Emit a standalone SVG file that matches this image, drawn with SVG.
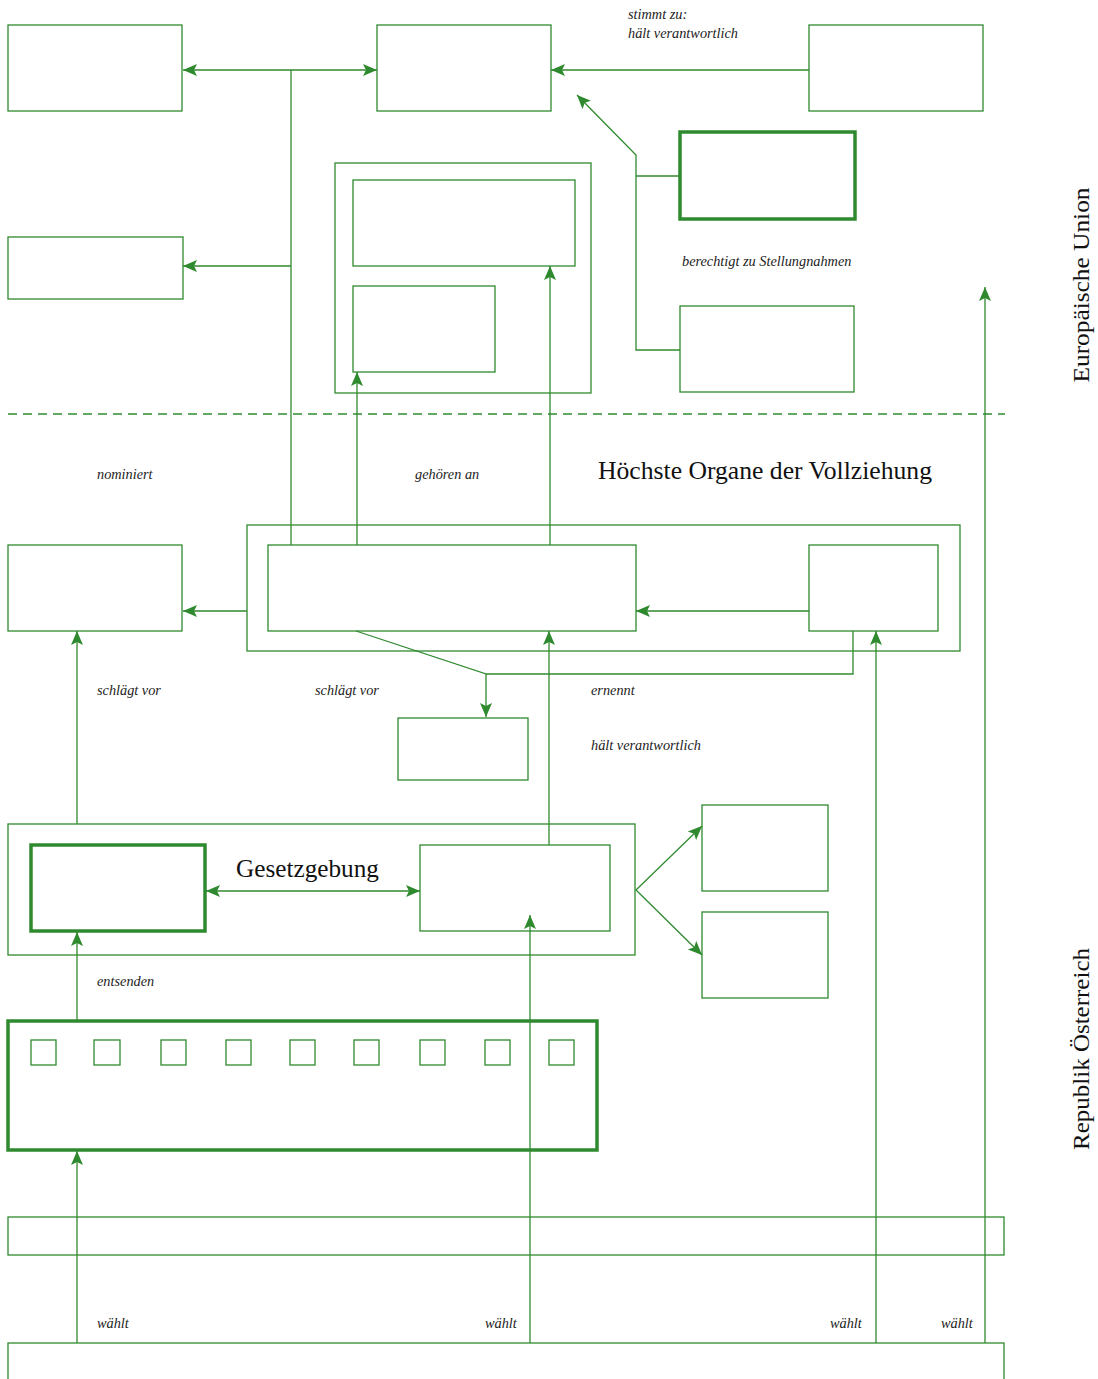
<svg xmlns="http://www.w3.org/2000/svg" width="1098" height="1379" viewBox="0 0 1098 1379">
<style>
.b{fill:#fff;stroke:#2f8a2f;stroke-width:1.3}
.t{fill:#fff;stroke:#2f8a2f;stroke-width:3.5}
.c{fill:none;stroke:#2f8a2f;stroke-width:1.3}
.l{font-family:"Liberation Serif",serif;font-style:italic;font-size:14.3px;fill:#222}
.h{font-family:"Liberation Serif",serif;font-size:24.5px;fill:#111}
.v{font-family:"Liberation Serif",serif;font-size:23px;fill:#111}
</style>
<defs>
<marker id="a" markerUnits="userSpaceOnUse" markerWidth="16" markerHeight="14" refX="14" refY="7" orient="auto">
<path d="M0,1 L14,7 L0,13 L3,7 z" fill="#2f8a2f"/>
</marker>
<marker id="s" markerUnits="userSpaceOnUse" markerWidth="16" markerHeight="14" refX="0" refY="7" orient="auto">
<path d="M14,1 L0,7 L14,13 L11,7 z" fill="#2f8a2f"/>
</marker>
</defs>
<rect width="1098" height="1379" fill="#fff"/>
<g id="nodes">
<g id="n-a"><rect class="b" x="8" y="25" width="174" height="86"/></g>
<g id="n-b"><rect class="b" x="377" y="25" width="174" height="86"/></g>
<g id="n-c"><rect class="b" x="809" y="25" width="174" height="86"/></g>
<g id="n-d"><rect class="t" x="680" y="132" width="175" height="87"/></g>
<g id="n-e"><rect class="b" x="680" y="306" width="174" height="86"/></g>
<g id="n-f"><rect class="b" x="8" y="237" width="175" height="62"/></g>
<g id="n-g"><rect class="b" x="335" y="163" width="256" height="230"/>
<rect class="b" x="353" y="180" width="222" height="86"/>
<rect class="b" x="353" y="286" width="142" height="86"/></g>
<g id="n-h"><rect class="b" x="8" y="545" width="174" height="86"/></g>
<g id="n-i"><rect class="b" x="247" y="525" width="713" height="126"/>
<rect class="b" x="268" y="545" width="368" height="86"/>
<rect class="b" x="809" y="545" width="129" height="86"/></g>
<g id="n-j"><rect class="b" x="398" y="718" width="130" height="62"/></g>
<g id="n-k"><rect class="b" x="8" y="824" width="627" height="131"/>
<rect class="t" x="31" y="845" width="174" height="86"/>
<rect class="b" x="420" y="845" width="190" height="86"/></g>
<g id="n-l1"><rect class="b" x="702" y="805" width="126" height="86"/></g>
<g id="n-l2"><rect class="b" x="702" y="912" width="126" height="86"/></g>
<g id="n-m"><rect class="t" x="8" y="1021" width="589" height="129"/>
<rect class="b" x="31" y="1040" width="25" height="25"/>
<rect class="b" x="94" y="1040" width="26" height="25"/>
<rect class="b" x="161" y="1040" width="25" height="25"/>
<rect class="b" x="226" y="1040" width="25" height="25"/>
<rect class="b" x="290" y="1040" width="25" height="25"/>
<rect class="b" x="354" y="1040" width="25" height="25"/>
<rect class="b" x="420" y="1040" width="25" height="25"/>
<rect class="b" x="485" y="1040" width="25" height="25"/>
<rect class="b" x="549" y="1040" width="25" height="25"/></g>
<g id="n-n"><rect class="b" x="8" y="1217" width="996" height="38" style="fill:none"/></g>
<g id="n-o"><rect class="b" x="8" y="1343" width="996" height="50"/></g>
</g>
<g id="connectors">
<line x1="8" y1="414" x2="1005" y2="414" stroke="#2f8a2f" stroke-width="1.3" stroke-dasharray="9,6"/>
<line class="c" x1="291" y1="70" x2="291" y2="545"/>
<line class="c" x1="183" y1="70" x2="377" y2="70" marker-start="url(#s)" marker-end="url(#a)"/>
<line class="c" x1="291" y1="266" x2="183" y2="266" marker-end="url(#a)"/>
<line class="c" x1="809" y1="70" x2="551" y2="70" marker-end="url(#a)"/>
<polyline class="c" points="680,176 636,176"/>
<polyline class="c" points="680,350 636,350 636,155 577,95" marker-end="url(#a)"/>
<line class="c" x1="357" y1="545" x2="357" y2="372" marker-end="url(#a)"/>
<line class="c" x1="550" y1="545" x2="550" y2="266" marker-end="url(#a)"/>
<line class="c" x1="247" y1="611" x2="183" y2="611" marker-end="url(#a)"/>
<line class="c" x1="809" y1="611" x2="636" y2="611" marker-end="url(#a)"/>
<polyline class="c" points="853,631 853,674 486,674"/>
<polyline class="c" points="356,631 486,674 486,717" marker-end="url(#a)"/>
<line class="c" x1="549" y1="845" x2="549" y2="631" marker-end="url(#a)"/>
<line class="c" x1="876" y1="1343" x2="876" y2="631" marker-end="url(#a)"/>
<line class="c" x1="77" y1="824" x2="77" y2="631" marker-end="url(#a)"/>
<line class="c" x1="206" y1="891" x2="420" y2="891" marker-start="url(#s)" marker-end="url(#a)"/>
<polyline class="c" points="702,826 636,890 702,955" marker-start="url(#s)" marker-end="url(#a)"/>
<line class="c" x1="77" y1="1021" x2="77" y2="932" marker-end="url(#a)"/>
<line class="c" x1="77" y1="1343" x2="77" y2="1151" marker-end="url(#a)"/>
<line class="c" x1="530" y1="1343" x2="530" y2="915" marker-end="url(#a)"/>
<line class="c" x1="985" y1="1343" x2="985" y2="287" marker-end="url(#a)"/>
</g>
<g id="labels">
<text class="l" x="628" y="19">stimmt zu:</text>
<text class="l" x="628" y="38">hält verantwortlich</text>
<text class="l" x="682" y="266">berechtigt zu Stellungnahmen</text>
<text class="l" x="97" y="479">nominiert</text>
<text class="l" x="415" y="479">gehören an</text>
<text class="h" x="598" y="479" textLength="334" lengthAdjust="spacingAndGlyphs">Höchste Organe der Vollziehung</text>
<text class="l" x="97" y="695">schlägt vor</text>
<text class="l" x="315" y="695">schlägt vor</text>
<text class="l" x="591" y="695">ernennt</text>
<text class="l" x="591" y="750">hält verantwortlich</text>
<text class="h" x="236" y="877" textLength="143" lengthAdjust="spacingAndGlyphs">Gesetzgebung</text>
<text class="l" x="97" y="986">entsenden</text>
<text class="l" x="97" y="1328">wählt</text>
<text class="l" x="485" y="1328">wählt</text>
<text class="l" x="830" y="1328">wählt</text>
<text class="l" x="941" y="1328">wählt</text>
<text class="v" transform="translate(1089,285) rotate(-90)" text-anchor="middle" textLength="195" lengthAdjust="spacingAndGlyphs">Europäische Union</text>
<text class="v" transform="translate(1089,1049) rotate(-90)" text-anchor="middle" textLength="202" lengthAdjust="spacingAndGlyphs">Republik Österreich</text>
</g>
</svg>
